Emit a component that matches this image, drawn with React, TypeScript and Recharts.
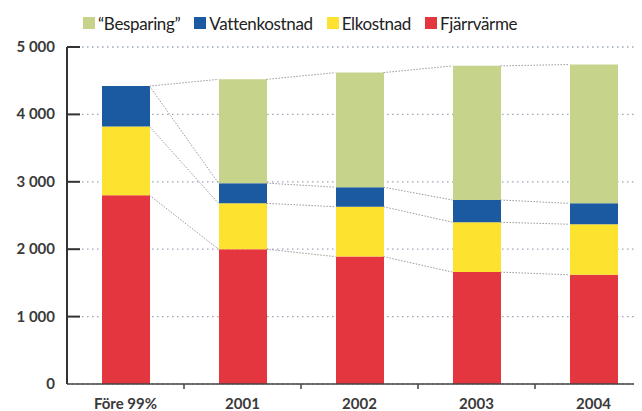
import React from 'react';
import {
  ComposedChart, Bar, XAxis, YAxis, CartesianGrid, ReferenceLine, Legend,
} from 'recharts';

const categories = ['Före 99%', '2001', '2002', '2003', '2004'];
const fjarrvarme = [2800, 2000, 1890, 1660, 1620];
const elkostnad = [1020, 680, 740, 740, 750];
const vattenkostnad = [600, 300, 290, 330, 310];
const besparing = [0, 1540, 1700, 1990, 2060];
const yTicks = [0, 1000, 2000, 3000, 4000, 5000];

// stack order bottom -> top
const series = [
  { key: 'fjarrvarme', name: 'Fjärrvärme', color: '#e4363f' },
  { key: 'elkostnad', name: 'Elkostnad', color: '#fde22f' },
  { key: 'vattenkostnad', name: 'Vattenkostnad', color: '#1b5aa1' },
  { key: 'besparing', name: '\u201cBesparing\u201d', color: '#c6d48b' },
];

// half of a bar width in x-domain units (one category = 1 unit)
const BAR_HALF = 0.205;

const rows = categories.map((c, i) => ({
  x: i + 0.5,
  name: c,
  fjarrvarme: fjarrvarme[i],
  elkostnad: elkostnad[i],
  vattenkostnad: vattenkostnad[i],
  besparing: besparing[i],
}));

// cumulative top of each stack level per category
const levels = rows.map((r) => {
  let sum = 0;
  return series.map((s) => (sum += (r as any)[s.key]));
});

const connectors: { x1: number; y1: number; x2: number; y2: number }[] = [];
for (let i = 0; i < rows.length - 1; i++) {
  for (let k = 0; k < series.length; k++) {
    connectors.push({
      x1: rows[i].x + BAR_HALF,
      y1: levels[i][k],
      x2: rows[i + 1].x - BAR_HALF,
      y2: levels[i + 1][k],
    });
  }
}

const xTicks: number[] = [];
rows.forEach((r, i) => {
  xTicks.push(r.x);
  if (i < rows.length - 1) xTicks.push(i + 1);
});

function fmt(v: number) {
  if (v === 0) return '0';
  return `${Math.floor(v / 1000)} ${String(v % 1000).padStart(3, '0')}`;
}

function XTick({ x, y, payload }: any) {
  const v = payload.value;
  if (Number.isInteger(v)) {
    return <line x1={x} y1={y} x2={x} y2={y + 5} stroke="#444" strokeWidth={1.5} />;
  }
  return (
    <text x={x} y={y + 25} textAnchor="middle" fill="#3a3a3a" fontSize={15} fontWeight={700} fontFamily="Lato">
      {categories[Math.round(v - 0.5)]}
    </text>
  );
}

function YTick({ x, y, payload }: any) {
  const v = payload.value;
  return (
    <g>
      {v !== 0 && <line x1={x} y1={y} x2={x + 13} y2={y} stroke="#333" strokeWidth={2} />}
      <text x={x - 12} y={y} dy={5} textAnchor="end" fill="#3a3a3a" fontSize={15} fontWeight={700} fontFamily="Lato">
        {fmt(v)}
      </text>
    </g>
  );
}

function LegendContent() {
  const items = [...series].reverse();
  return (
    <div style={{ height: 40, boxSizing: 'border-box', paddingLeft: 83, paddingBottom: 8, display: 'flex', alignItems: 'center', fontFamily: 'Lato', fontSize: 17, color: '#222' }}>
      {items.map((s) => (
        <div key={s.key} style={{ display: 'flex', alignItems: 'center', marginRight: 14 }}>
          <span style={{ width: 12, height: 12, background: s.color, marginRight: 3, display: 'inline-block' }} />
          <span style={{ letterSpacing: -0.35 }}>{s.name}</span>
        </div>
      ))}
    </div>
  );
}

export default function App() {
  return (
    <div style={{ position: 'relative', margin: '-8px 0 0 -8px', width: 642, height: 411, overflow: 'hidden', background: '#fff' }}>
      <ComposedChart width={660} height={411} data={rows} margin={{ top: 7, right: 8, bottom: 0, left: 0 }}>
        <Legend verticalAlign="top" align="left" content={<LegendContent />} />
        <CartesianGrid horizontal vertical={false} stroke="#9aa6b8" strokeDasharray="1.5 3.5" strokeWidth={1.3} />
        <XAxis
          type="number"
          dataKey="x"
          domain={[0, 5]}
          ticks={xTicks}
          interval={0}
          tickLine={false}
          tickSize={0}
          tickMargin={0}
          tick={<XTick />}
          axisLine={{ stroke: '#444', strokeWidth: 1.5 }}
          height={27}
        />
        <YAxis
          domain={[0, 5000]}
          ticks={yTicks}
          interval={0}
          tickLine={false}
          tickSize={0}
          tickMargin={0}
          tick={<YTick />}
          axisLine={{ stroke: '#333', strokeWidth: 2 }}
          width={67}
        />
        {series.map((s) => (
          <Bar key={s.key} dataKey={s.key} name={s.name} stackId="a" fill={s.color} barSize={48} isAnimationActive={false} />
        ))}
        {connectors.map((c, i) => (
          <ReferenceLine
            key={i}
            segment={[{ x: c.x1, y: c.y1 }, { x: c.x2, y: c.y2 }]}
            stroke="#9a9a9a"
            strokeWidth={1}
            strokeDasharray="1.5 1.5"
          />
        ))}
      </ComposedChart>
    </div>
  );
}
